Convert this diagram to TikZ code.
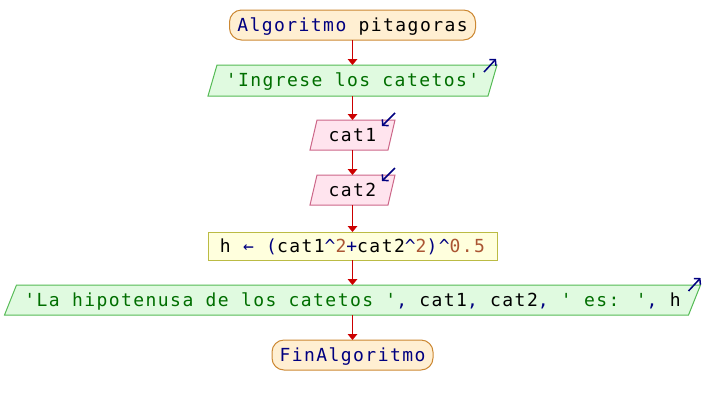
\documentclass[tikz,border=0pt]{standalone}
\usepackage{fontspec}
\newfontfamily\codefont{DejaVu Sans Mono}[LetterSpace=8]
\usetikzlibrary{arrows.meta,calc,backgrounds}

\definecolor{flowred}{HTML}{CC0000}
\definecolor{kwblue}{HTML}{000080}
\definecolor{strgreen}{HTML}{006E00}
\definecolor{numbrown}{HTML}{AA5533}
\definecolor{termfill}{HTML}{FFEFD2}
\definecolor{termdraw}{HTML}{CC8833}
\definecolor{outfill}{HTML}{E0FAE0}
\definecolor{outdraw}{HTML}{55BB55}
\definecolor{infill}{HTML}{FFE4EE}
\definecolor{indraw}{HTML}{CC6688}
\definecolor{procfill}{HTML}{FFFFDD}
\definecolor{procdraw}{HTML}{BBBB44}

% parallelogram behind a node: #1 node, #2 half slant, #3 fill, #4 border
\newcommand\paraback[4]{%
  \begin{scope}[on background layer]
    \path[fill=#3, draw=#4, line width=1pt]
      ($(#1.south west)+(-#2,0)$) -- ($(#1.north west)+(#2,0)$) --
      ($(#1.north east)+(#2,0)$) -- ($(#1.south east)+(-#2,0)$) -- cycle;
  \end{scope}}

\begin{document}
\begin{tikzpicture}[x=1pt, y=-1pt,
  every node/.style={inner sep=0pt, outer sep=0pt, text height=12.5pt, text depth=0pt,
    font=\codefont\fontsize{18}{21}\selectfont},
  term/.style={draw=termdraw, fill=termfill, line width=1pt, rounded corners=12pt, minimum height=30pt},
  iobox/.style={minimum height=30pt},
  procbox/.style={draw=procdraw, fill=procfill, line width=1pt, minimum height=28pt},
  flow/.style={draw=flowred, line width=1.7pt, -{Triangle[width=9.5pt,length=6pt]}},
  icon/.style={draw=kwblue, line width=1.5pt, -{Straight Barb[length=4pt,width=9pt]}}]

\useasboundingbox (0,0) rectangle (704,405);

\node[term, minimum width=246pt] (start) at (352.5,25)
  {{\color{kwblue}Algoritmo} pitagoras};
\node[iobox, minimum width=280pt, minimum height=31pt] (out1) at (352.5,80.5)
  {\color{strgreen}'Ingrese los catetos'};
\node[iobox, minimum width=78pt] (in1) at (352.5,135) {cat1};
\node[iobox, minimum width=78pt] (in2) at (352.5,190) {cat2};
\node[procbox, minimum width=289pt] (calc) at (352.5,246)
  {h {\color{kwblue}← (}cat1{\color{kwblue}\textasciicircum}{\color{numbrown}2}{\color{kwblue}+}cat2{\color{kwblue}\textasciicircum}{\color{numbrown}2}{\color{kwblue})\textasciicircum}{\color{numbrown}0.5}};
\node[iobox, minimum width=684pt] (out2) at (352.5,300)
  {{\color{strgreen}'La hipotenusa de los catetos '}{\color{kwblue},} cat1{\color{kwblue},} cat2{\color{kwblue},} {\color{strgreen}' es: '}{\color{kwblue},} h};
\node[term, minimum width=161pt] (fin) at (352.5,355)
  {\color{kwblue}FinAlgoritmo};

\paraback{out1}{4.5}{outfill}{outdraw}
\paraback{in1}{3.5}{infill}{indraw}
\paraback{in2}{3.5}{infill}{indraw}
\paraback{out2}{6}{outfill}{outdraw}

% flow connectors
\draw[flow] (start.south) -- (out1.north);
\draw[flow] (out1.south) -- (in1.north);
\draw[flow] (in1.south) -- (in2.north);
\draw[flow] (in2.south) -- (calc.north);
\draw[flow] (calc.south) -- (out2.north);
\draw[flow] (out2.south) -- (fin.north);

% output / input markers
\draw[icon] ($(out1.north east)+(4.5,0)+(-13,7)$) -- ($(out1.north east)+(4.5,0)+(-1,-6)$);
\draw[icon] ($(out2.north east)+(6,0)+(-12,6)$) -- ($(out2.north east)+(6,0)+(0,-7)$);
\draw[icon] ($(in1.north east)+(3.5,0)+(0,-7)$) -- ($(in1.north east)+(3.5,0)+(-13,6)$);
\draw[icon] ($(in2.north east)+(3.5,0)+(0,-7)$) -- ($(in2.north east)+(3.5,0)+(-13,6)$);
\end{tikzpicture}
\end{document}
